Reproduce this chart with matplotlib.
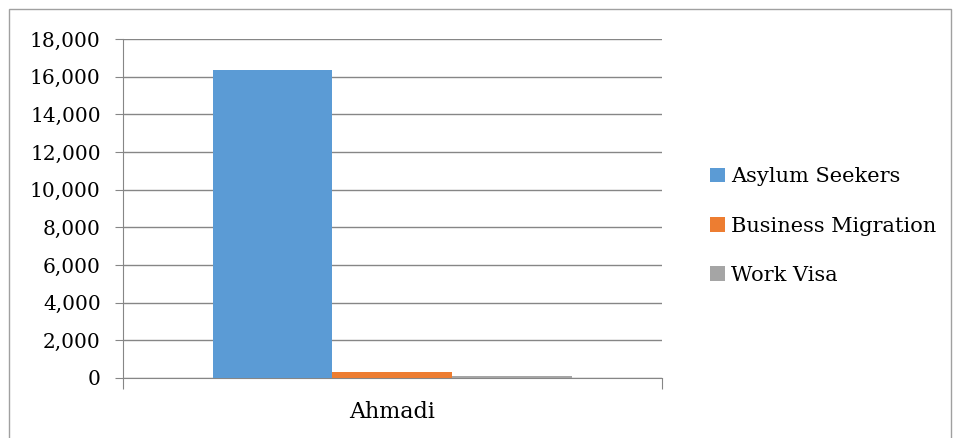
import matplotlib.pyplot as plt
from matplotlib.patches import Rectangle

category = "Ahmadi"
series = ["Asylum Seekers", "Business Migration", "Work Visa"]
values = [16350, 340, 130]
colors = ["#5b9bd5", "#ed7d31", "#a5a5a5"]
y_ticks = list(range(0, 18001, 2000))

plt.rcParams['font.family'] = ['DejaVu Serif']

fig = plt.figure(figsize=(9.6, 4.38), dpi=100)
ax = fig.add_axes([0.128, 0.137, 0.5615, 0.774])

# outer chart border
fig.patches.append(Rectangle((9 / 960, -0.1), 942 / 960, 1.1 - 9 / 438,
                             transform=fig.transFigure, fill=False,
                             edgecolor="#a0a0a0", linewidth=1))

width = 0.667 / 3
for i, (name, v, c) in enumerate(zip(series, values, colors)):
    ax.bar((i - 1) * width, v, width=width, color=c, label=name, zorder=3)

ax.set_xlim(-0.5, 0.5)
ax.set_ylim(0, 18000)
ax.set_yticks(y_ticks)
ax.set_yticklabels([f"{t:,}" for t in y_ticks], fontsize=14.5)
ax.set_xticks([-0.5, 0.5])
ax.set_xticklabels([])
fig.text(392 / 960, 1 - 412 / 438, category, ha="center", va="center", fontsize=16)
ax.tick_params(axis="y", length=6, color="#868686", pad=10)
ax.tick_params(axis="x", length=8, color="#868686")
ax.grid(axis="y", color="#868686", linewidth=1, zorder=0)

for s in ["top", "right"]:
    ax.spines[s].set_visible(False)
ax.spines["left"].set_color("#868686")
ax.spines["bottom"].set_color("#868686")

ax.legend(loc="center left", bbox_to_anchor=(0.72, 0.484), bbox_transform=fig.transFigure,
          frameon=False, fontsize=15, handlelength=0.7, handleheight=0.7,
          handletextpad=0.3, labelspacing=1.45)

plt.savefig("out.png", dpi=100)
